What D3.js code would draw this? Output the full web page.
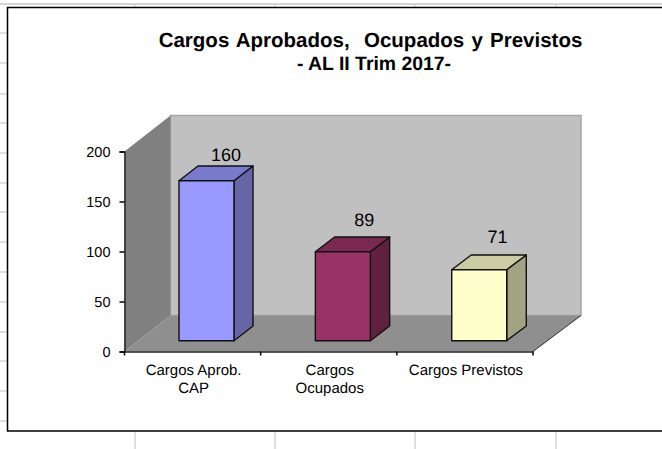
<!DOCTYPE html>
<html><head><meta charset="utf-8">
<script src="https://cdn.jsdelivr.net/npm/d3@7"></script>
<style>html,body{margin:0;padding:0;background:#fff}svg{display:block}text{font-family:"Liberation Sans",Arial,sans-serif;fill:#000;text-rendering:geometricPrecision}</style>
</head><body><svg id="c" width="662" height="449"></svg>
<script>
const categories = ["Cargos Aprob. CAP","Cargos Ocupados","Cargos Previstos"];
const categoryLines = [["Cargos Aprob.","CAP"],["Cargos","Ocupados"],["Cargos Previstos"]];
const values = [160,89,71];
const yTicks = [0,50,100,150,200];
const frontColors = ["#9999ff","#993366","#ffffcc"];
const topColors = ["#7a7acc","#7a2952","#cccca3"];
const sideColors = ["#6666a6","#602040","#a3a382"];
const titleLines = ["Cargos Aprobados,  Ocupados y Previstos","- AL II Trim 2017-"];
const sheetRowLines = [33,63,94,123,153,183,212,242,272,302,332,361,391,421];
const sheetColLines = [135,275,415,556];

const svg = d3.select("#c");
const X0=124.5,X1=533,Y0=351.5,Y200=151.5,DY=-36;
const x = d3.scaleBand().domain(categories).range([X0,X1]);
const y = d3.scaleLinear().domain([0,200]).range([Y0,Y200]);
const xBack = d3.scaleLinear().domain([X0,X1]).range([170.5,581]);
const pt=(px,py,d)=>[px+(xBack(px)-px)*d,py+DY*d].join(",");

// spreadsheet lines behind
const grid=svg.append("g").attr("stroke","#d4d4d4").attr("stroke-width",1.5);
grid.selectAll("line.r").data(sheetRowLines).join("line").attr("class","r").attr("x1",0).attr("x2",7).attr("y1",d=>d).attr("y2",d=>d);
grid.selectAll("line.c").data(sheetColLines).join("line").attr("class","c").attr("x1",d=>d).attr("x2",d=>d).attr("y1",431).attr("y2",449);
grid.selectAll("line.u").data(sheetColLines).join("line").attr("class","u").attr("x1",d=>d).attr("x2",d=>d).attr("y1",4).attr("y2",7);
grid.append("line").attr("x1",0).attr("x2",662).attr("y1",4).attr("y2",4).attr("stroke-width",2);

// frame
svg.append("path").attr("d","M662,7.5H7.5V431H662").attr("fill","#fff").attr("stroke","#000").attr("stroke-width",1.5);

// walls
svg.append("polygon").attr("points",[pt(X0,Y200,1),pt(X1,Y200,1),pt(X1,Y0,1),pt(X0,Y0,1)].join(" ")).attr("fill","#c0c0c0").attr("stroke","#a6a6a6").attr("stroke-width",1.5);
svg.append("polygon").attr("points",[pt(X0,Y200,0),pt(X0,Y200,1),pt(X0,Y0,1),pt(X0,Y0,0)].join(" ")).attr("fill","#808080");
svg.append("polygon").attr("points",[pt(X0,Y0,0),pt(X1,Y0,0),pt(X1,Y0,1),pt(X0,Y0,1)].join(" ")).attr("fill","#8f8f8f");
const edge=pt(X1,Y0,1).split(",");
svg.append("line").attr("x1",X1).attr("y1",Y0).attr("x2",edge[0]).attr("y2",edge[1]).attr("stroke","#333");

// bars
const D0=0.3,D1=0.71,BW=0.403;
const bars=svg.append("g").selectAll("g").data(values).join("g");
const bx=(i)=>x(categories[i])+x.bandwidth()*(1-BW)/2;
const w=x.bandwidth()*BW;
const barStroke={stroke:"#111","stroke-width":1.4,"stroke-linejoin":"round"};
function face(sel,pts,fill){const p=sel.append("polygon").attr("points",pts.join(" ")).attr("fill",fill);for(const k in barStroke)p.attr(k,barStroke[k]);}
bars.each(function(v,i){
  const g=d3.select(this),l=bx(i),r=l+w,t=y(v),b=y(0);
  face(g,[pt(r,t,D0),pt(r,t,D1),pt(r,b,D1),pt(r,b,D0)],sideColors[i]);
  face(g,[pt(l,t,D0),pt(l,t,D1),pt(r,t,D1),pt(r,t,D0)],topColors[i]);
  face(g,[pt(l,t,D0),pt(r,t,D0),pt(r,b,D0),pt(l,b,D0)],frontColors[i]);
});
// data labels
const labelBaseline=d3.scaleLinear().domain([71,160]).range([243,161]);
const labelNudge=[0,2,-1];
svg.append("g").selectAll("text").data(values).join("text")
  .attr("x",(v,i)=>x(categories[i])+x.bandwidth()/2+33.5+labelNudge[i])
  .attr("y",v=>labelBaseline(v))
  .attr("text-anchor","middle").attr("font-size",18).text(v=>v);

// axes
const yAxis=d3.axisLeft(y).tickValues(yTicks).tickSize(5).tickPadding(9);
const gy=svg.append("g").attr("transform",`translate(${X0},0)`).call(yAxis);
gy.selectAll("text").attr("font-size",14.5).attr("font-family","Liberation Sans");
gy.select(".domain").attr("stroke","#222").attr("stroke-width",1.5);
gy.selectAll(".tick line").attr("stroke","#000").attr("stroke-width",1.5);
const xAxis=d3.axisBottom(x).tickValues([]).tickSize(0);
const gx=svg.append("g").attr("transform",`translate(0,${Y0})`).call(xAxis);
gx.select(".domain").attr("stroke","#222").attr("stroke-width",1.5);
gx.selectAll("line.t").data([0,1,2,3]).join("line").attr("class","t")
  .attr("x1",i=>X0+i*x.bandwidth()).attr("x2",i=>X0+i*x.bandwidth()).attr("y1",0).attr("y2",4).attr("stroke","#000").attr("stroke-width",1.5);

// category labels
const cat=svg.append("g").selectAll("text").data(categoryLines).join("text").attr("text-anchor","middle").attr("font-size",15);
cat.each(function(lines,i){
  const cx=x(categories[i])+x.bandwidth()/2+1;
  d3.select(this).selectAll("tspan").data(lines).join("tspan").attr("x",cx).attr("y",(d,j)=>375+j*18).text(d=>d);
});

// title
svg.append("g").selectAll("text").data(titleLines).join("text")
  .attr("x",(d,i)=>i?374:370.5).attr("y",(d,i)=>i?70:46.5).attr("text-anchor","middle").attr("font-weight","bold")
  .attr("font-size",(d,i)=>i?19.4:20.5).attr("word-spacing",(d,i)=>i?0:1.5).style("white-space","pre").text(d=>d);
</script></body></html>
